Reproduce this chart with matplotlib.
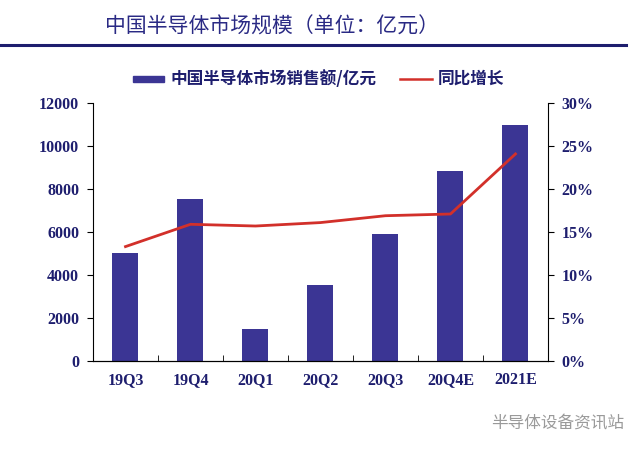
import matplotlib
matplotlib.use("Agg")
import matplotlib.pyplot as plt
from matplotlib.ticker import FuncFormatter, FixedLocator
from matplotlib.patches import Rectangle
from matplotlib.lines import Line2D

categories = ["19Q3", "19Q4", "20Q1", "20Q2", "20Q3", "20Q4E", "2021E"]
sales = [5040, 7550, 1460, 3540, 5900, 8850, 11000]
yoy = [13.3, 15.9, 15.7, 16.1, 16.9, 17.1, 24.1]
left_ticks = [0, 2000, 4000, 6000, 8000, 10000, 12000]
right_ticks = [0, 5, 10, 15, 20, 25, 30]

title = "中国半导体市场规模（单位：亿元）"
legend_bar = "中国半导体市场销售额/亿元"
legend_line = "同比增长"
watermark = "半导体设备资讯站"

navy = "#1e1e6e"
bar_color = "#3b3594"
line_color = "#d2302a"

plt.rcParams['font.family'] = ['Noto Sans CJK SC', 'DejaVu Sans']

fig = plt.figure(figsize=(6.4, 4.51), dpi=100)
fig.patch.set_facecolor("white")
ax = fig.add_axes([0.1453, 0.2002, 0.7109, 0.5707])
x = list(range(len(categories)))
ax.bar(x, sales, width=0.4, color=bar_color, zorder=2)
ax.set_xlim(-0.5, len(categories) - 0.5)
ax.set_ylim(0, 12000)
ax.set_yticks(left_ticks)
ax.set_xticks(x)
ax.set_xticklabels(categories)
ax.xaxis.set_minor_locator(FixedLocator([i + 0.5 for i in range(len(categories) - 1)]))
ax.tick_params(axis="x", which="major", length=0, pad=8)
ax.tick_params(axis="x", which="minor", direction="in", length=4, color="black")
ax.tick_params(axis="y", direction="out", length=4, pad=6)
ax.spines["top"].set_visible(False)
ax.spines["right"].set_visible(False)
for lab in ax.get_xticklabels() + ax.get_yticklabels():
    lab.set_fontfamily("Liberation Serif")
    lab.set_fontweight("bold")
    lab.set_fontsize(11.5)
    lab.set_color(navy)

ax2 = ax.twinx()
ax2.plot(x, yoy, color=line_color, lw=2, zorder=3)
ax2.set_ylim(0, 30)
ax2.set_yticks(right_ticks)
ax2.yaxis.set_major_formatter(FuncFormatter(lambda v, p: f"{int(v)}%"))
ax2.tick_params(axis="y", direction="out", length=4, pad=6)
ax2.spines["top"].set_visible(False)
ax2.spines["left"].set_visible(False)
for lab in ax2.get_yticklabels():
    lab.set_fontfamily("Liberation Serif")
    lab.set_fontweight("bold")
    lab.set_fontsize(11.5)
    lab.set_color(navy)

# title and rule
fig.text(0.164, 0.94, title, fontsize=15, fontweight="medium", color="#2a2a84",
         va="center", ha="left")
fig.add_artist(Line2D([0.0, 0.978], [0.900, 0.900], transform=fig.transFigure,
                      color="#1e1e6e", lw=2.2))

# legend
fig.add_artist(Rectangle((0.208, 0.818), 0.048, 0.014, transform=fig.transFigure,
                         color=bar_color))
fig.text(0.266, 0.825, legend_bar, fontsize=12, fontweight="bold", color=navy,
         va="center", ha="left")
fig.add_artist(Line2D([0.625, 0.675], [0.825, 0.825], transform=fig.transFigure,
                      color=line_color, lw=1.8))
fig.text(0.684, 0.825, legend_line, fontsize=12, fontweight="bold", color=navy,
         va="center", ha="left")

fig.text(0.975, 0.062, watermark, fontsize=12, color="#9a9a9a", va="center", ha="right")

fig.savefig("out.png", dpi=100, facecolor="white")
